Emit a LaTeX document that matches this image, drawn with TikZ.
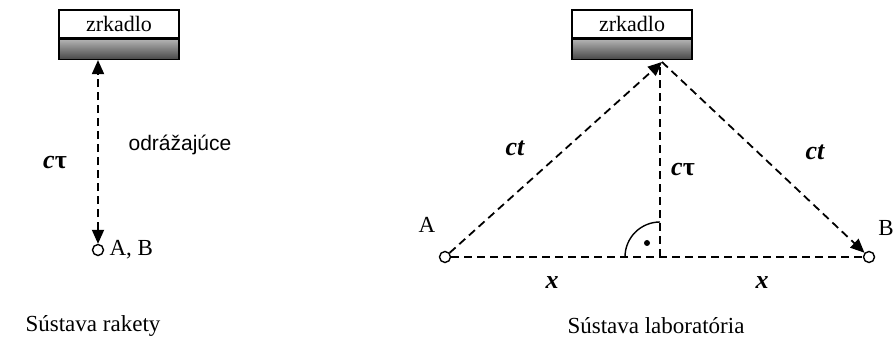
\documentclass[tikz,border=0pt]{standalone}
\usepackage{fontspec}
\setmainfont{Liberation Serif}
\newfontfamily\sansf{Liberation Sans}
\usetikzlibrary{arrows.meta}
\tikzset{
  mirtop/.style={draw, line width=1.4pt, fill=white, minimum width=120pt, minimum height=28pt, inner sep=0pt, font=\fontsize{22}{24}\selectfont},
  mirbot/.style={draw, line width=1.4pt, top color=black!30, bottom color=black!72, minimum width=120pt, minimum height=20pt, inner sep=0pt},
  dashline/.style={line width=1.8pt, dash pattern=on 8pt off 5pt},
  tip/.style={-{Triangle[length=14pt,width=12pt]}},
  pt/.style={circle, draw, line width=1.4pt, fill=white, minimum size=11pt, inner sep=0pt},
  lbl/.style={font=\fontsize{23}{25}\selectfont},
  mlbl/.style={font=\fontsize{26}{28}\selectfont\bfseries},
}
\begin{document}
\begin{tikzpicture}[x=1pt,y=1pt]
\useasboundingbox (0,0) rectangle (896,339);
% ---- left: rocket frame
\node[mirtop] (mL) at (119,315) {zrkadlo};
\node[mirbot, anchor=north] (mLb) at (mL.south) {};
\node[pt] (AB) at (98,89) {};
\draw[dashline, {Triangle[length=14pt,width=12pt]}-{Triangle[length=14pt,width=12pt]}] (AB.north) -- (AB.north |- mLb.south);
\node[lbl, anchor=west] (labAB) at (106,89) {A, B};
\node[font=\sansf\fontsize{21}{23}\selectfont] (odr) at (180,194) {odrážajúce};
\node[mlbl] (ctauL) at (55,176) {\itshape c\upshape τ};
\node[lbl, inner sep=0pt] (capL) at (93,13) {Sústava rakety};
% ---- right: lab frame
\node[mirtop] (mR) at (632,315) {zrkadlo};
\node[mirbot, anchor=north] (mRb) at (mR.south) {};
\coordinate (P) at (662,277);
\coordinate (F) at (660,82);
\node[pt] (A) at (445,82) {};
\node[pt] (B) at (869,82) {};
\draw[dashline] (A) -- (B);
\draw[dashline] (F) -- (F |- P);
\draw[dashline, tip] (A) -- (P);
\draw[dashline, tip] (P) -- (B);
\draw[line width=1.4pt] (F) ++(-35,0) arc[start angle=180, end angle=90, radius=35pt];
\fill (647,96) circle (3pt);
\node[lbl] (labA) at (427,114) {A};
\node[lbl] (labB) at (886,111) {B};
\node[mlbl] (ctL) at (515,191) {\itshape ct};
\node[mlbl] (ctau) at (683,169) {\itshape c\upshape τ};
\node[mlbl] (ctR) at (815,187) {\itshape ct};
\node[mlbl] (xL) at (552,56) {\itshape x};
\node[mlbl] (xR) at (762,56) {\itshape x};
\node[lbl, inner sep=0pt] (capR) at (656,13) {Sústava laboratória};
\end{tikzpicture}
\end{document}
